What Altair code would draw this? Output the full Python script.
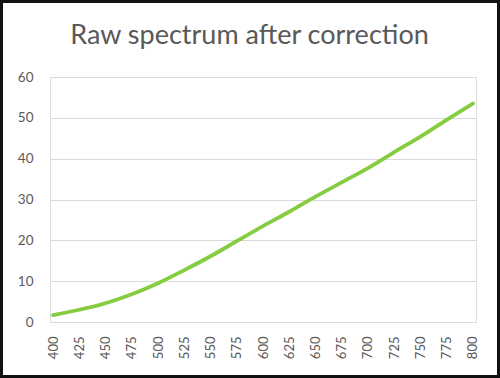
import altair as alt
import pandas as pd

wavelength = [400, 425, 450, 475, 500, 525, 550, 575, 600, 625, 650, 675, 700, 725, 750, 775, 800]
intensity = [1.7, 3.0, 4.6, 6.8, 9.5, 12.7, 16.1, 19.8, 23.5, 27.0, 30.7, 34.2, 37.7, 41.6, 45.4, 49.5, 53.5]
x_ticks = list(range(400, 801, 25))
y_ticks = [0, 10, 20, 30, 40, 50, 60]
title_text = "Raw spectrum after correction"

df = pd.DataFrame({"wavelength": wavelength, "intensity": intensity})

GRAY = "#595959"
FONT = "Lato"

line = alt.Chart(df).mark_line(color="#86cc40", strokeWidth=3.8, strokeCap="round", strokeJoin="round",
                               interpolate="monotone").encode(
    x=alt.X("wavelength:Q",
            scale=alt.Scale(domain=[397.1, 802.9], nice=False, zero=False),
            axis=alt.Axis(values=x_ticks, labelAngle=-90, grid=False, domain=False, ticks=False,
                          labelPadding=14, labelFontSize=13, labelColor=GRAY, labelFont=FONT,
                          title=None, labelBaseline="middle", labelAlign="right")),
    y=alt.Y("intensity:Q",
            scale=alt.Scale(domain=[0, 60], nice=False),
            axis=alt.Axis(values=y_ticks, grid=True, gridColor="#d9d9d9", gridWidth=1, domain=False,
                          ticks=False, labelPadding=17, labelFontSize=13.5, labelColor=GRAY,
                          labelFont=FONT, title=None)),
)

title = alt.Chart(df.head(1)).mark_text(
    text=title_text, font=FONT, fontSize=27, color=GRAY, align="center", baseline="alphabetic"
).encode(x=alt.value(199.5), y=alt.value(-33))

border = alt.Chart(df.head(1)).mark_rect(filled=False, stroke="#111111", strokeWidth=3).encode(
    x=alt.value(-48.5), x2=alt.value(448.5), y=alt.value(-75.5), y2=alt.value(299.5)
)

chart = alt.layer(line, title, border).properties(
    width=426, height=245,
    autosize=alt.AutoSizeParams(type="none"),
    padding={"left": 50, "top": 77, "right": 24, "bottom": 56},
).configure_view(stroke=None).configure(background="white")

chart.save("out.html", embed_options={"renderer": "svg", "actions": False})
